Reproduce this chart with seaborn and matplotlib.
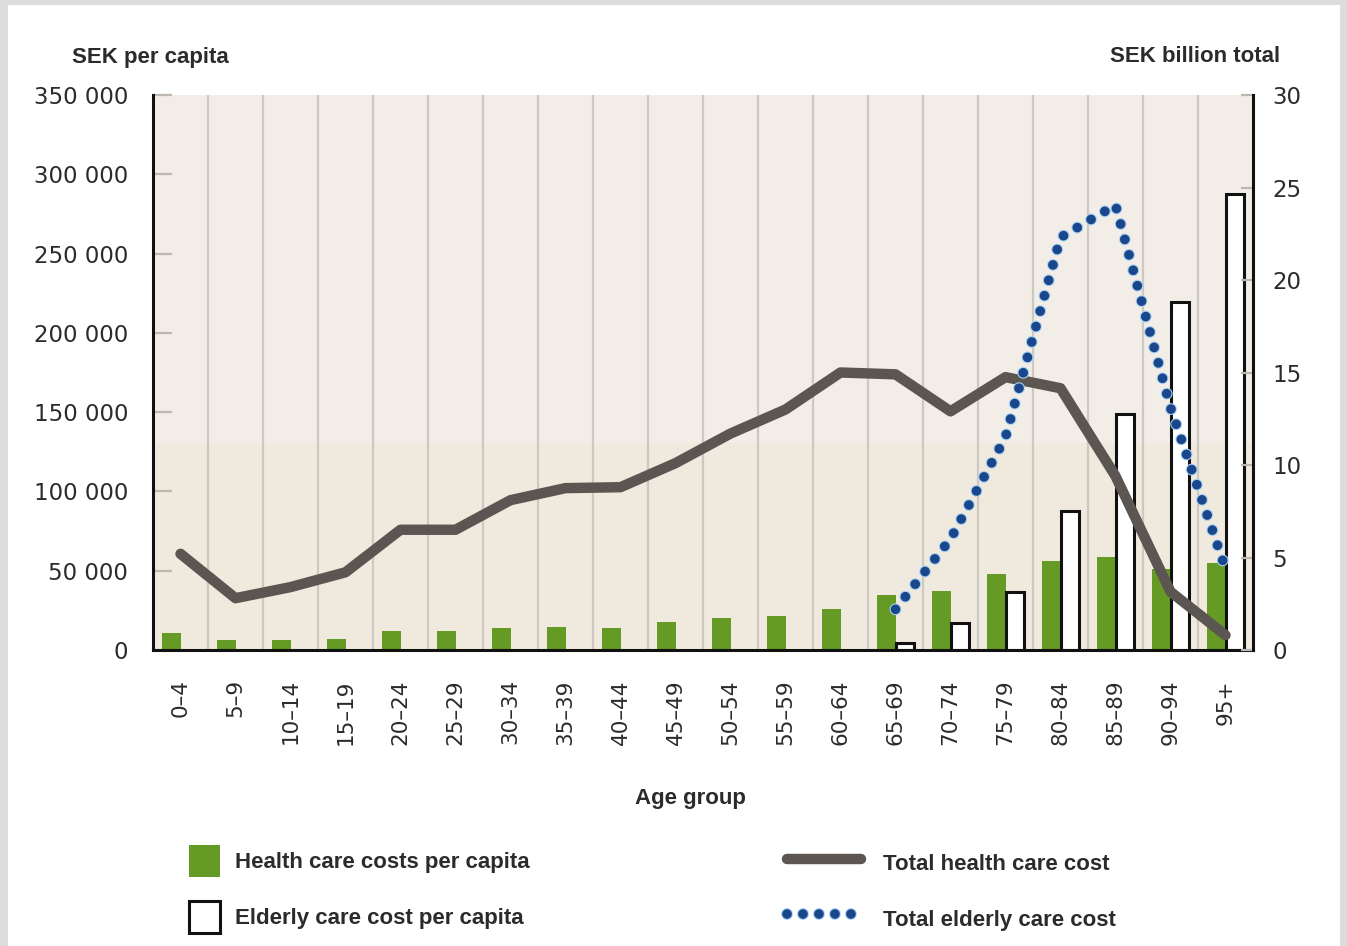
import matplotlib
matplotlib.use("Agg")
import numpy as np
import pandas as pd
import seaborn as sns
import matplotlib.pyplot as plt
from matplotlib.patches import Patch, Rectangle
from matplotlib.lines import Line2D
import matplotlib.patheffects as pe

# ---------------- data ----------------
age_groups = ["0–4", "5–9", "10–14", "15–19", "20–24", "25–29", "30–34", "35–39",
              "40–44", "45–49", "50–54", "55–59", "60–64", "65–69", "70–74",
              "75–79", "80–84", "85–89", "90–94", "95+"]
health_per_capita = [11000, 6500, 6000, 7100, 12200, 12200, 13700, 14300, 13700,
                     17600, 20200, 21400, 25800, 34700, 37400, 47900, 56300,
                     58400, 51000, 54800]
elderly_per_capita = [np.nan] * 13 + [4400, 17000, 36800, 87800, 148800, 219600, 287300]
total_health = [5.2, 2.8, 3.4, 4.2, 6.5, 6.5, 8.1, 8.75, 8.8, 10.1, 11.7, 13.0,
                15.0, 14.9, 12.9, 14.75, 14.15, 9.4, 3.15, 0.8]
total_elderly = [np.nan] * 13 + [2.2, 6.0, 11.5, 22.3, 24.05, 13.1, 4.4]

left_ticks = [0, 50000, 100000, 150000, 200000, 250000, 300000, 350000]
right_ticks = [0, 5, 10, 15, 20, 25, 30]

# ---------------- style ----------------
sns.set_style("white")
plt.rcParams["font.family"] = ["DejaVu Sans"]
plt.rcParams["lines.scale_dashes"] = False
NARROW = ["Liberation Sans", "DejaVu Sans"]

GREEN = "#659a24"
GREY_LINE = "#5b5651"
BLUE = "#1a468c"
HALO = "#a8d2f2"
TXT = "#2b2b2b"
DOTS = (0, (0.01, 11.5))

W, H = 1347, 946
fig = plt.figure(figsize=(W / 100, H / 100), dpi=100, facecolor="#dcdcdc")
fig.patches.append(Rectangle((8 / W, 0), (1340 - 8) / W, 1 - 5 / H,
                             transform=fig.transFigure, facecolor="white",
                             edgecolor="none", zorder=-5))

ax = fig.add_axes([153 / W, 1 - 650 / H, 1100 / W, 555 / H])
ax.set_facecolor("none")

# background bands
ax.axhspan(0, 130500, color="#f0e9de", zorder=0, lw=0)
ax.axhspan(130500, 350000, color="#f2eee7", zorder=0, lw=0)
for k in range(1, len(age_groups)):
    ax.axvline(k - 0.5, color="#cdc8c1", lw=1.6, zorder=0.5)

df = pd.DataFrame({
    "age": age_groups * 2,
    "value": health_per_capita + elderly_per_capita,
    "kind": ["Health"] * len(age_groups) + ["Elderly"] * len(age_groups),
})
sns.barplot(data=df, x="age", y="value", hue="kind", order=age_groups,
            hue_order=["Health", "Elderly"],
            palette={"Health": GREEN, "Elderly": "white"},
            width=0.66, gap=0, saturation=1, errorbar=None, legend=False,
            ax=ax, zorder=2)
for bar in ax.containers[1]:
    bar.set_edgecolor("#111111")
    bar.set_linewidth(2.2)
for bar in ax.containers[0]:
    bar.set_linewidth(0)

ax.set_xlim(-0.5, len(age_groups) - 0.5)
ax.set_ylim(0, 350000)
ax.set_yticks(left_ticks)
ax.set_yticklabels([f"{v:,}".replace(",", " ") for v in left_ticks])
ax.set_xlabel("")
ax.set_ylabel("")
ax.tick_params(axis="y", direction="in", length=14, width=1.6, color="#bdb7b0",
               pad=18, labelsize=16.5, labelcolor=TXT)
ax.tick_params(axis="x", length=0, pad=21, labelsize=15.5, labelcolor=TXT)
for lab in ax.get_xticklabels():
    lab.set_rotation(90)
    lab.set_va("top")
    lab.set_ha("center")
for s in ["top", "right"]:
    ax.spines[s].set_visible(False)
for s in ["left", "bottom"]:
    ax.spines[s].set_color("#111111")
    ax.spines[s].set_linewidth(2.2)

# ---------------- right axis lines ----------------
ax2 = ax.twinx()
xpos = np.arange(len(age_groups))
sns.lineplot(x=xpos, y=total_health, ax=ax2, color=GREY_LINE, lw=7.5,
             solid_joinstyle="round", solid_capstyle="round", zorder=3)
line_df = pd.DataFrame({"x": xpos, "y": total_elderly}).dropna()
sns.lineplot(data=line_df, x="x", y="y", ax=ax2, color=BLUE, lw=7,
             linestyle=DOTS, dash_capstyle="round", zorder=4,
             path_effects=[pe.Stroke(linewidth=8.6, foreground=HALO),
                           pe.Normal()])
ax2.set_ylim(0, 30)
ax2.set_xlim(-0.5, len(age_groups) - 0.5)
ax2.set_yticks(right_ticks)
ax2.set_ylabel("")
ax2.tick_params(axis="y", direction="in", length=9, width=1.6, color="#bdb7b0",
                pad=14, labelsize=16.5, labelcolor=TXT)
for s in ["top", "left", "bottom"]:
    ax2.spines[s].set_visible(False)
ax2.spines["right"].set_color("#111111")
ax2.spines["right"].set_linewidth(2.2)

# ---------------- texts ----------------
fs = 16
fig.text(150 / W, 1 - 57 / H, "SEK per capita", ha="center", va="center",
         fontsize=fs, fontweight="bold", family=NARROW, color=TXT)
fig.text(1195 / W, 1 - 57 / H, "SEK billion total", ha="center", va="center",
         fontsize=fs, fontweight="bold", family=NARROW, color=TXT)
fig.text(690 / W, 1 - 798 / H, "Age group", ha="center", va="center",
         fontsize=fs, fontweight="bold", family=NARROW, color=TXT)

# ---------------- legends ----------------
h_left = [Patch(facecolor=GREEN, edgecolor="none"),
          Patch(facecolor="white", edgecolor="#111111", linewidth=2.2)]
leg1 = fig.legend(h_left, ["Health care costs per capita", "Elderly care cost per capita"],
                  loc="upper left", bbox_to_anchor=(189 / W, 1 - 845 / H),
                  frameon=False, borderpad=0, borderaxespad=0,
                  handlelength=1.4, handleheight=1.85, handletextpad=0.65,
                  labelspacing=1.05, prop={"family": NARROW, "weight": "bold", "size": fs})
h_right = [Line2D([0], [0], color=GREY_LINE, lw=7.5, solid_capstyle="round"),
           Line2D([0], [0], color=BLUE, lw=7, linestyle=DOTS, dash_capstyle="round",
                  path_effects=[pe.Stroke(linewidth=8.6, foreground=HALO), pe.Normal()])]
leg2 = fig.legend(h_right, ["Total health care cost", "Total elderly care cost"],
                  loc="upper left", bbox_to_anchor=(787 / W, 1 - 847 / H),
                  frameon=False, borderpad=0, borderaxespad=0,
                  handlelength=3.35, handleheight=1.85, handletextpad=0.95,
                  labelspacing=1.05, prop={"family": NARROW, "weight": "bold", "size": fs})
for leg in (leg1, leg2):
    for t in leg.get_texts():
        t.set_color(TXT)

fig.savefig("out.png", dpi=100, facecolor=fig.get_facecolor())
